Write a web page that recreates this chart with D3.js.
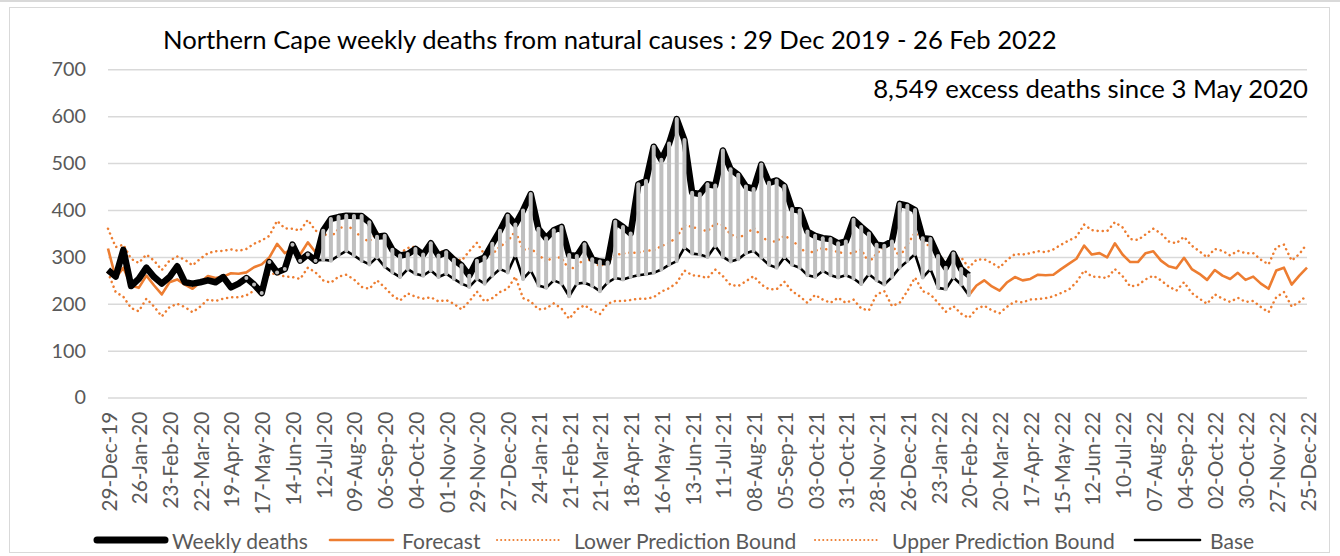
<!DOCTYPE html>
<html lang="en">
<head>
<meta charset="UTF-8">
<title>Northern Cape weekly deaths</title>
<script src="https://cdn.jsdelivr.net/npm/d3@7"></script>
<style>
  body { margin: 0; background: #fff; }
  svg { display: block; font-family: Lato, "Open Sans", sans-serif; }
  .grid line { stroke: #d9d9d9; stroke-width: 1.5; }
  .grid path { display: none; }
  .tick text { fill: #595959; }
  .xaxis path, .xaxis line { display: none; }
</style>
</head>
<body>
<svg width="1340" height="556"></svg>
<script>
// weekly categories, 29-Dec-2019 .. 25-Dec-2022
const startWeek = new Date(2019, 11, 29);
const fmt = d3.timeFormat("%d-%b-%y");
const weeks = d3.range(157).map(i => fmt(d3.timeDay.offset(startWeek, 7 * i)));

const tickLabels = ["29-Dec-19","26-Jan-20","23-Feb-20","22-Mar-20","19-Apr-20","17-May-20","14-Jun-20","12-Jul-20",
  "09-Aug-20","06-Sep-20","04-Oct-20","01-Nov-20","29-Nov-20","27-Dec-20","24-Jan-21","21-Feb-21","21-Mar-21",
  "18-Apr-21","16-May-21","13-Jun-21","11-Jul-21","08-Aug-21","05-Sep-21","03-Oct-21","31-Oct-21","28-Nov-21",
  "26-Dec-21","23-Jan-22","20-Feb-22","20-Mar-22","17-Apr-22","15-May-22","12-Jun-22","10-Jul-22","07-Aug-22",
  "04-Sep-22","02-Oct-22","30-Oct-22","27-Nov-22","25-Dec-22"];

const yTicks = [0, 100, 200, 300, 400, 500, 600, 700];

// weeks 0..112 (to 20-Feb-22)
const weeklyDeaths = [272,258,315,238,253,277,257,243,257,280,246,243,246,250,246,257,235,243,255,241,
  223,289,267,274,326,292,305,292,356,381,385,388,387,387,374,343,345,315,303,306,
  317,305,329,303,310,294,282,260,292,299,328,356,388,369,399,434,360,340,357,364,
  304,302,327,295,290,288,375,364,350,455,462,535,507,542,594,549,437,434,455,452,
  527,487,475,450,445,497,458,463,451,402,399,354,345,340,338,329,333,379,364,350,
  326,324,333,413,409,400,340,338,302,277,307,274,261];

// base, weeks 18..112
const baseStart = 18;
const base = [255,241,223,289,267,274,326,292,305,292,294,292,303,313,303,292,284,299,279,267,
  257,274,264,260,271,257,264,253,243,236,253,243,260,274,267,303,253,271,239,234,
  250,243,216,243,245,238,227,245,255,252,257,261,263,266,273,283,291,320,307,305,
  300,323,300,290,295,308,313,298,283,277,299,283,277,261,257,270,261,256,261,254,
  242,263,250,241,257,277,291,306,256,274,234,231,256,241,218];

// forecast, weeks 0..27 and 112..156
const forecastEarly = [318,255,277,239,234,260,239,220,246,252,241,232,246,259,255,258,265,264,267,278,
  284,299,328,308,317,305,331,310];
const forecastLate = [218,239,250,237,228,246,257,250,253,262,261,262,274,285,296,324,305,308,299,329,
  305,289,289,308,312,292,280,276,298,274,264,251,272,260,253,266,251,258,243,232,
  271,277,241,260,277];

const lowerBound = [267,225,215,191,184,211,194,173,193,200,193,182,194,209,206,211,214,214,218,228,
  237,264,264,258,257,253,277,267,250,245,258,262,252,236,232,250,235,218,207,222,
  215,211,214,205,208,200,188,205,226,205,212,225,232,258,212,205,188,190,201,190,
  168,188,197,186,178,200,206,206,208,211,211,214,226,233,245,271,261,259,255,273,
  259,240,238,248,259,241,231,231,247,227,216,202,219,209,202,213,202,209,190,186,
  220,227,195,202,227,256,227,220,202,183,195,179,170,189,196,186,180,194,205,203,
  209,210,212,216,223,230,246,271,258,257,255,274,259,237,240,252,260,250,237,228,
  246,223,211,200,220,211,204,213,204,206,193,182,214,225,194,204,218];

const upperBound = [360,321,326,296,287,305,292,272,292,301,294,282,296,308,312,313,316,313,317,328,
  335,345,377,361,360,356,379,356,350,342,360,367,358,340,333,352,338,319,308,319,
  322,310,313,310,312,299,292,312,330,305,306,322,333,355,315,318,305,290,300,298,
  273,280,297,291,280,290,304,307,309,309,313,314,323,330,342,368,364,359,355,371,
  368,348,341,348,362,345,331,334,345,336,320,307,313,319,313,311,306,309,316,288,
  307,321,326,300,326,352,334,321,309,284,291,299,277,294,295,287,277,294,306,305,
  308,312,310,316,326,335,343,369,357,355,355,374,363,338,336,348,360,350,333,329,
  343,324,312,299,317,313,303,313,308,308,294,284,321,326,292,306,328];

const pad = n => Array(n).fill(null);
const weeklySeries = weeklyDeaths.concat(pad(157 - weeklyDeaths.length));
const baseSeries = pad(baseStart).concat(base, pad(157 - baseStart - base.length));
const forecastSeries = forecastEarly.concat(pad(112 - forecastEarly.length), forecastLate);

const svg = d3.select("svg");
const W = 1340, H = 556;

// chart frame
svg.append("rect").attr("x", 0).attr("y", 0).attr("width", W).attr("height", 2).attr("fill", "#d9d9d9");
svg.append("rect").attr("x", 9.5).attr("y", 7.5).attr("width", 1320).attr("height", 545)
  .attr("fill", "none").attr("stroke", "#d9d9d9");

const x = d3.scalePoint().domain(weeks).range([108, 1307]);
const y = d3.scaleLinear().domain([0, 700]).range([397.6, 69.3]);

function fit(sel, target) {
  const w = sel.node().getComputedTextLength();
  const fs = parseFloat(sel.attr("font-size"));
  sel.attr("font-size", fs * target / w);
  return fs * target / w;
}

// gridlines + y labels
const yAxis = svg.append("g").attr("class", "grid")
  .attr("transform", "translate(108,0)")
  .call(d3.axisLeft(y).tickValues(yTicks).tickSize(-1199).tickPadding(22));
const probe = yAxis.select(".tick:last-of-type text").attr("font-size", 20);
const ySize = fit(probe, 33);
yAxis.selectAll(".tick text").attr("font-size", ySize).attr("font-family", "Lato, sans-serif");

// x labels
const xAxis = svg.append("g").attr("class", "xaxis")
  .attr("transform", "translate(0,397.6)")
  .call(d3.axisBottom(x).tickValues(tickLabels).tickSize(0).tickPadding(0));
xAxis.selectAll(".tick text")
  .attr("font-size", 17).attr("font-family", "Lato, sans-serif")
  .attr("text-anchor", "end").attr("dy", null)
  .attr("transform", "translate(0,14) rotate(-90)")
  .attr("dominant-baseline", "central");
const xSize = fit(xAxis.select(".tick text"), 100);
xAxis.selectAll(".tick text").attr("font-size", xSize);

const line = d3.line()
  .defined(d => d != null)
  .x((d, i) => x(weeks[i]))
  .y(d => y(d));

const plot = svg.append("g");

// prediction bounds (round dots)
[lowerBound, upperBound].forEach(s => {
  plot.append("path").datum(s).attr("d", line)
    .attr("fill", "none").attr("stroke", "#ED7D31").attr("stroke-width", 2.5)
    .attr("stroke-linecap", "round").attr("stroke-dasharray", "0.1 5");
});

plot.append("path").datum(forecastSeries).attr("d", line)
  .attr("fill", "none").attr("stroke", "#ED7D31").attr("stroke-width", 2.6)
  .attr("stroke-linejoin", "round");

plot.append("path").datum(weeklySeries).attr("d", line)
  .attr("fill", "none").attr("stroke", "#000").attr("stroke-width", 6.5)
  .attr("stroke-linejoin", "round");

plot.append("path").datum(baseSeries).attr("d", line)
  .attr("fill", "none").attr("stroke", "#000").attr("stroke-width", 2.6)
  .attr("stroke-linejoin", "round");

// excess hatching between base and weekly deaths
const bars = weeks.map((w, i) => ({ w, lo: baseSeries[i], hi: weeklySeries[i] }))
  .filter(d => d.lo != null && d.hi != null);
plot.selectAll("line.excess").data(bars).join("line")
  .attr("class", "excess")
  .attr("x1", d => x(d.w)).attr("x2", d => x(d.w))
  .attr("y1", d => y(d.lo)).attr("y2", d => y(d.hi))
  .attr("stroke", "#bfbfbf").attr("stroke-width", 4).attr("stroke-linecap", "round");

// title and note
const title = svg.append("text").attr("x", 163).attr("y", 49).attr("font-size", 22).attr("fill", "#000")
  .text("Northern Cape weekly deaths from natural causes : 29 Dec 2019 - 26 Feb 2022");
fit(title, 894);
const note = svg.append("text").attr("x", 1308).attr("y", 98).attr("font-size", 22).attr("fill", "#000")
  .attr("text-anchor", "end").text("8,549 excess deaths since 3 May 2020");
fit(note, 435);

// legend
const legendItems = [
  { name: "Weekly deaths", x0: 97, x1: 165, tx: 172, color: "#000", width: 7, dash: null },
  { name: "Forecast", x0: 330, x1: 393, tx: 402, color: "#ED7D31", width: 2.6, dash: null },
  { name: "Lower Prediction Bound", x0: 497, x1: 560, tx: 574, color: "#ED7D31", width: 2, dash: "0.1 4" },
  { name: "Upper Prediction Bound", x0: 815, x1: 880, tx: 892, color: "#ED7D31", width: 2, dash: "0.1 4" },
  { name: "Base", x0: 1135, x1: 1200, tx: 1210, color: "#000", width: 2.6, dash: null }
];
const lg = svg.append("g");
const lgY = 540;
lg.selectAll("line").data(legendItems).join("line")
  .attr("x1", d => d.x0).attr("x2", d => d.x1).attr("y1", lgY).attr("y2", lgY)
  .attr("stroke", d => d.color).attr("stroke-width", d => d.width)
  .attr("stroke-linecap", "round").attr("stroke-dasharray", d => d.dash);
const lgText = lg.selectAll("text").data(legendItems).join("text")
  .attr("x", d => d.tx).attr("y", lgY).attr("dominant-baseline", "central")
  .attr("font-size", 20).attr("fill", "#595959").text(d => d.name);
const lgSize = fit(lgText.filter(d => d.name === "Upper Prediction Bound"), 223);
lgText.attr("font-size", lgSize);
</script>
</body>
</html>
